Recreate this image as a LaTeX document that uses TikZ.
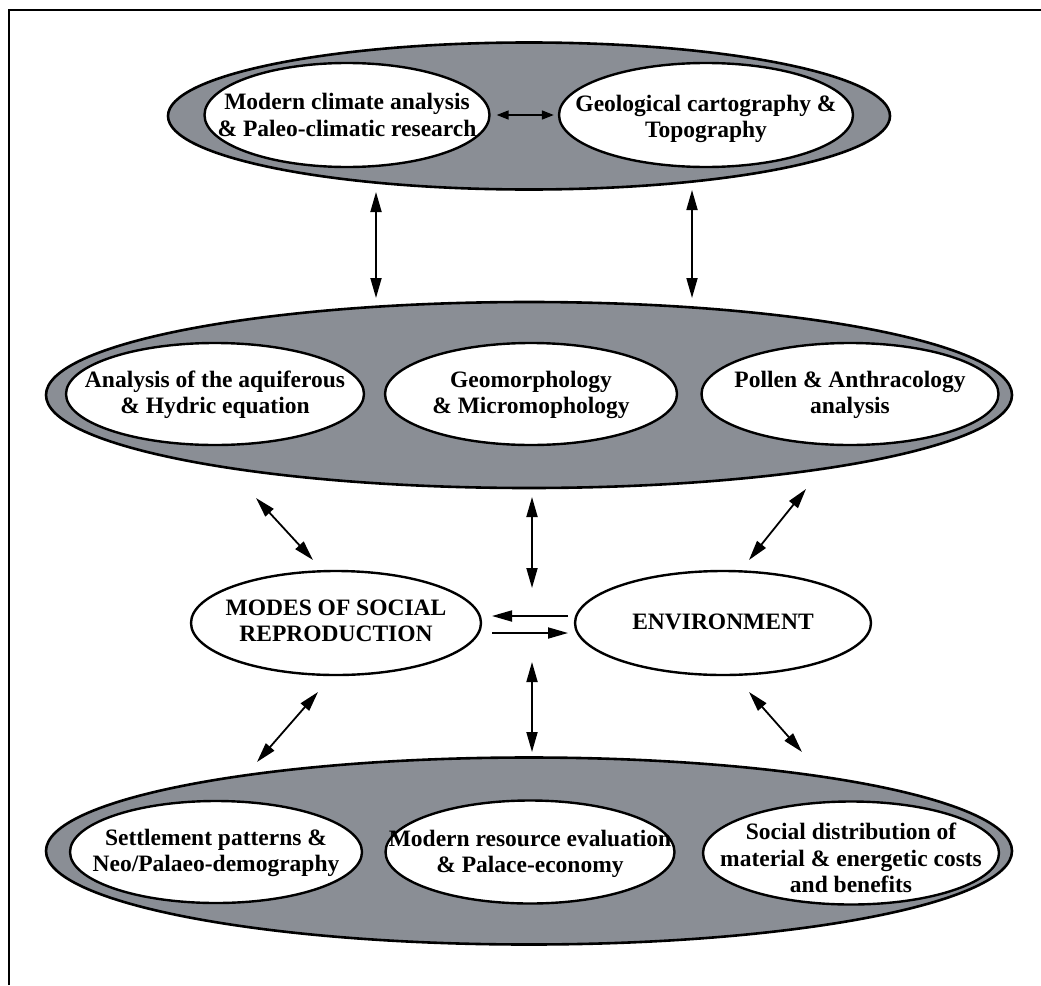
\documentclass[tikz,border=0pt]{standalone}
\usepackage{fontspec}
\setmainfont{Liberation Serif}
\usetikzlibrary{shapes.geometric,arrows.meta}
\definecolor{panelgray}{RGB}{138,142,149}
\begin{document}
\begin{tikzpicture}[x=1pt,y=-1pt,
  grp/.style={ellipse,draw=black,line width=2.6pt,fill=panelgray,inner sep=0pt},
  item/.style={ellipse,draw=black,line width=2.4pt,fill=white,inner sep=0pt},
  txt/.style={inner sep=0pt,align=center,font=\bfseries\fontsize{23.5}{26.5}\selectfont},
  biarrow/.style={line width=1.8pt,{Triangle[length=20pt,width=11pt]}-{Triangle[length=20pt,width=11pt]}},
  onearrow/.style={line width=1.8pt,-{Triangle[length=20pt,width=11pt]}}
]
\useasboundingbox (0,0) rectangle (1041,985);
\fill[white] (0,0) rectangle (1041,985);

% frame
\draw[line width=2.6pt] (9,985) -- (9,10) -- (1041,10);

% top group
\node[grp,minimum width=722pt,minimum height=147pt] (topgrp) at (529,116) {};
\node[item,minimum width=285pt,minimum height=104pt] (climate) at (347,115) {};
\node[txt] (climate-t) at (347,115) {Modern climate analysis\\\& Paleo-climatic research};
\node[item,minimum width=294pt,minimum height=104pt] (geo) at (706,115) {};
\node[txt] (geo-t) at (706,119) {Geological cartography \&\\Topography};
\draw[line width=1.6pt,{Triangle[length=12pt,width=9pt]}-{Triangle[length=12pt,width=9pt]},
  shorten <=6pt,shorten >=4pt] (climate.east) -- (geo.west);

% middle group
\node[grp,minimum width=966pt,minimum height=186pt] (midgrp) at (529,395) {};
\node[item,minimum width=298pt,minimum height=102pt] (aquifer) at (215,394) {};
\node[txt] (aquifer-t) at (215,395) {Analysis of the aquiferous\\\& Hydric equation};
\node[item,minimum width=292pt,minimum height=102pt] (geomorph) at (531,394) {};
\node[txt] (geomorph-t) at (531,395) {Geomorphology\\\& Micromophology};
\node[item,minimum width=297pt,minimum height=102pt] (pollen) at (850,394) {};
\node[txt] (pollen-t) at (850,395) {Pollen \& Anthracology\\analysis};

% central pair
\node[item,minimum width=290pt,minimum height=104pt] (modes) at (336,623) {};
\node[txt] (modes-t) at (336,621) {MODES OF SOCIAL\\REPRODUCTION};
\node[item,minimum width=296pt,minimum height=104pt] (env) at (723,623) {};
\node[txt] (env-t) at (723,622) {ENVIRONMENT};

% bottom group
\node[grp,minimum width=966pt,minimum height=187pt] (botgrp) at (529,851) {};
\node[item,minimum width=292pt,minimum height=102pt] (settle) at (216,852) {};
\node[txt] (settle-t) at (216,853) {Settlement patterns \&\\Neo/Palaeo-demography};
\node[item,minimum width=289pt,minimum height=103pt] (resource) at (530,852) {};
\node[txt] (resource-t) at (530,854) {Modern resource evaluation\\\& Palace-economy};
\node[item,minimum width=296pt,minimum height=103pt] (social) at (851,853) {};
\node[txt] (social-t) at (851,858) {Social distribution of\\material \& energetic costs\\and benefits};

% connector end points
\coordinate (t1a) at (376,192);  \coordinate (t1b) at (376,298);
\coordinate (t2a) at (692,190);  \coordinate (t2b) at (692,298);
\coordinate (u1a) at (256,498);  \coordinate (u1b) at (313,560);
\coordinate (u2a) at (532,497);  \coordinate (u2b) at (532,588);
\coordinate (u3a) at (806,489);  \coordinate (u3b) at (749,560);
\coordinate (h1a) at (568,616);  \coordinate (h1b) at (492,616);
\coordinate (h2a) at (492,633);  \coordinate (h2b) at (568,633);
\coordinate (l1a) at (318,692);  \coordinate (l1b) at (257,762);
\coordinate (l2a) at (532,662);  \coordinate (l2b) at (532,752);
\coordinate (l3a) at (749,692);  \coordinate (l3b) at (802,752);

% top group <-> middle group
\draw[biarrow] (t1a) -- (t1b);
\draw[biarrow] (t2a) -- (t2b);

% middle group <-> central pair
\draw[biarrow] (u1a) -- (u1b);
\draw[biarrow] (u2a) -- (u2b);
\draw[biarrow] (u3a) -- (u3b);

% modes <-> environment
\draw[onearrow] (h1a) -- (h1b);
\draw[onearrow] (h2a) -- (h2b);

% central pair <-> bottom group
\draw[biarrow] (l1a) -- (l1b);
\draw[biarrow] (l2a) -- (l2b);
\draw[biarrow] (l3a) -- (l3b);
\end{tikzpicture}
\end{document}
